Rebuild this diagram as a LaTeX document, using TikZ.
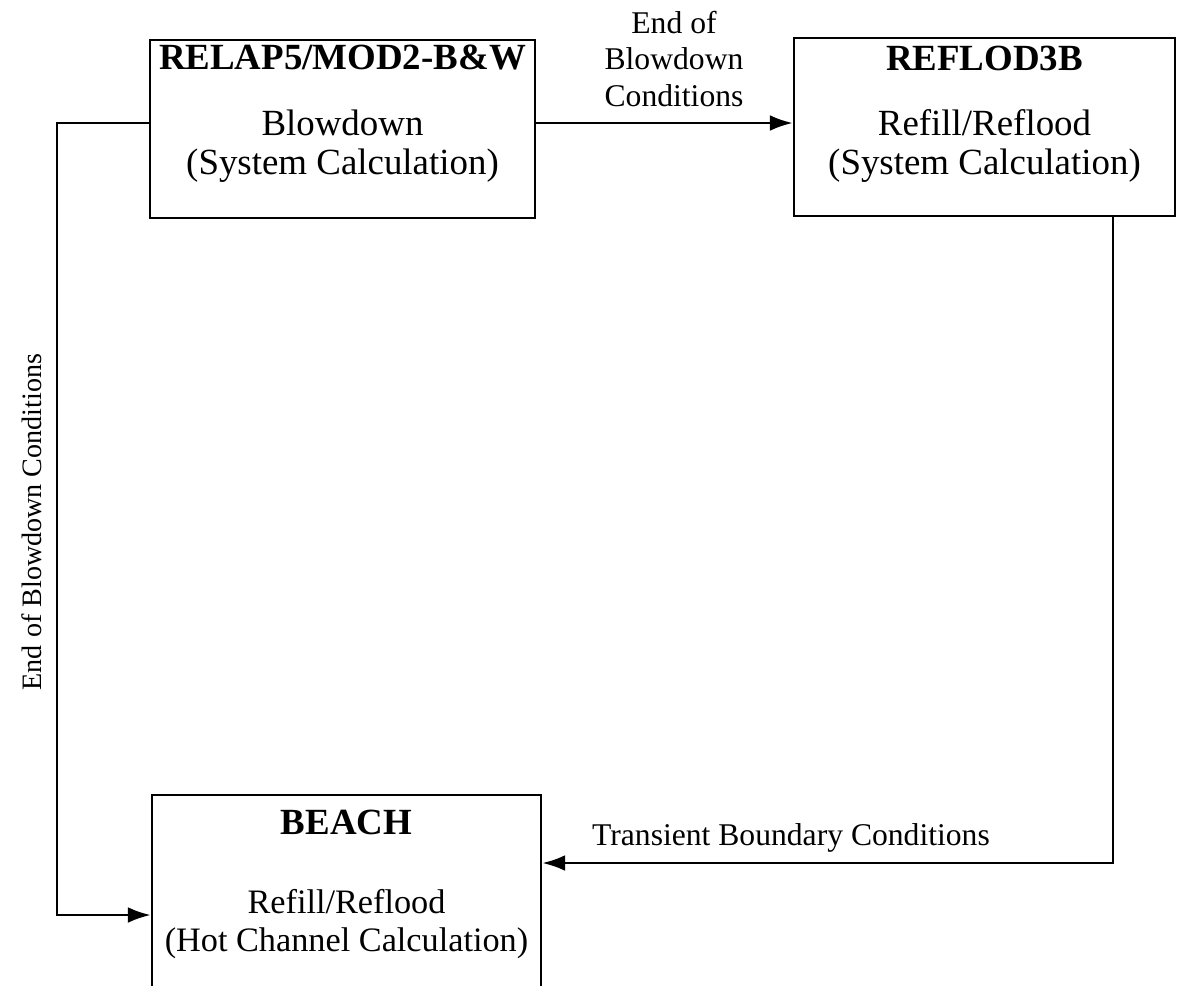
\documentclass[tikz,border=0pt]{standalone}
\usepackage{fontspec}
\setmainfont{Liberation Serif}
\usetikzlibrary{arrows.meta,positioning,calc}

\begin{document}
\begin{tikzpicture}[x=0.02cm,y=-0.02cm,>={Latex[length=13pt,width=9pt]},
  font=\fontsize{21}{22}\selectfont,line width=1.5pt,
  codebox/.style={draw,line width=1.5pt,inner sep=0pt},
  boxtext/.style={align=center,inner sep=0pt},
  boxtitle/.style={boxtext,font=\fontsize{21}{22}\selectfont\bfseries},
  flowlabel/.style={boxtext,font=\fontsize{18}{20.5}\selectfont},
  flow/.style={->,line width=1.5pt}]
  \useasboundingbox (0,0) rectangle (1203,985);
  % the three codes
  \node[codebox,minimum width=7.7cm,minimum height=3.56cm] (relap) at (342.5,129) {};
  \node[codebox,minimum width=7.62cm,minimum height=3.56cm] (reflod) at (984.5,127) {};
  \node[codebox,minimum width=7.78cm,minimum height=3.9cm] (beach) at (346.5,892.5) {};
  \node[boxtitle] (relapT) at (342.5,58) {RELAP5/MOD2-B\&W};
  \node[boxtext] (relapB) at (342.5,146) {Blowdown\\(System Calculation)};
  \node[boxtitle] (reflodT) at (984.5,58) {REFLOD3B};
  \node[boxtext] (reflodB) at (984.5,146) {Refill/Reflood\\(System Calculation)};
  \node[boxtitle] (beachT) at (346.5,822) {BEACH};
  \node[boxtext,font=\fontsize{19.5}{21.5}\selectfont] (beachB) at (346.5,924) {Refill/Reflood\\(Hot Channel Calculation)};
  % connectors
  \coordinate (lft) at (57,123);
  \coordinate (lfb) at (57,915);
  \coordinate (rgb) at (1113,863);
  \draw[flow] (relap.east |- 0,123) -- (reflod.west |- 0,123);
  \node[flowlabel] (topL) at (674,59) {End of\\Blowdown\\Conditions};
  \draw[flow] (relap.west |- lft) -- (lft) -- (lfb) -- (beach.west |- lfb);
  \node[flowlabel,rotate=90,font=\fontsize{16}{19}\selectfont] (leftL) at (32,522) {End of Blowdown Conditions};
  \draw[flow] (reflod.south -| rgb) -- (rgb) -- (beach.east |- rgb);
  \node[flowlabel] (botL) at (791,838) {Transient Boundary Conditions};
\end{tikzpicture}
\end{document}
